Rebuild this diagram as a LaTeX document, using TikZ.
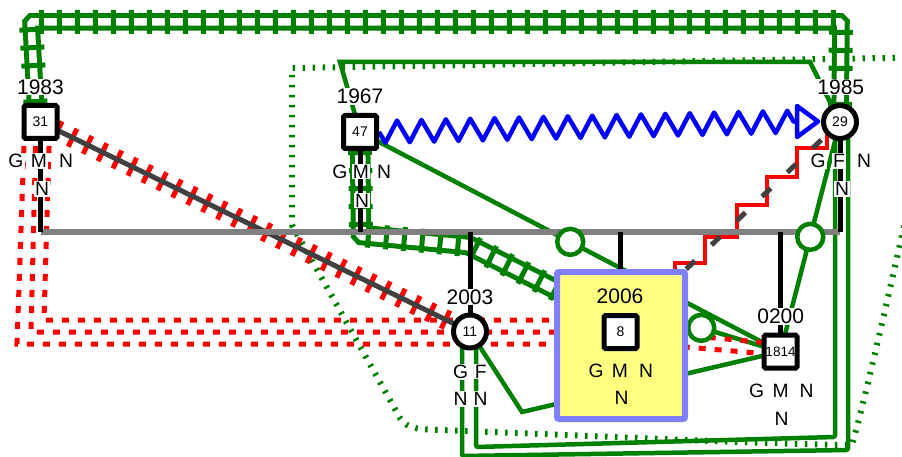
\documentclass[tikz,border=0pt]{standalone}
\usepackage{fontspec}
\setmainfont{Liberation Sans}
\usetikzlibrary{decorations.pathmorphing}
\definecolor{gr}{RGB}{0,128,0}
\definecolor{rd}{RGB}{255,0,0}
\definecolor{dg}{RGB}{64,64,64}
\definecolor{fg}{RGB}{128,128,128}
\definecolor{bl}{RGB}{0,0,255}
\definecolor{bbox}{RGB}{128,128,255}
\definecolor{ybox}{RGB}{255,255,128}
\pgfdeclarelayer{lA}
\pgfdeclarelayer{lB}
\pgfdeclarelayer{lC}
\pgfdeclarelayer{lD}
\pgfdeclarelayer{lE}
\pgfsetlayers{lA,lB,lC,lD,lE,main}
\begin{document}
\begin{tikzpicture}[x=1pt,y=-1pt,
  sq/.style={draw=black, line width=5pt, fill=white, minimum size=33pt, rounded corners=1.5pt, inner sep=0pt, font=\fontsize{14}{14}\selectfont},
  ci/.style={circle, draw=black, line width=5pt, fill=white, minimum size=33pt, inner sep=0pt, font=\fontsize{14}{14}\selectfont},
  yr/.style={fill=white, inner sep=1pt, font=\fontsize{21}{21}\selectfont},
  yrb/.style={inner sep=1pt, font=\fontsize{21}{21}\selectfont},
  lt/.style={fill=white, inner sep=1pt, font=\fontsize{19.3}{19.3}\selectfont},
  ltb/.style={inner sep=1pt, font=\fontsize{19.3}{19.3}\selectfont},
  gl/.style={draw=gr, line width=4.5pt},
  railsA/.style={draw=gr, line width=5pt, double=white, double distance=7.5pt},
  railsB/.style={draw=gr, line width=5pt, double=white, double distance=10.5pt},
  ties/.style={draw=gr, line width=24pt, dash pattern=on 5pt off 13pt},
  rdot/.style={draw=rd, line width=5pt, dash pattern=on 7pt off 9pt},
  gdot/.style={draw=gr, line width=6pt, dash pattern=on 2.5pt off 7.5pt},
  mk/.style={circle, draw=gr, line width=4.5pt, fill=white, minimum size=26pt, inner sep=0pt},
  fam/.style={draw=fg, line width=5pt},
  kid/.style={draw=black, line width=5pt},
  ]
\useasboundingbox (0,0) rectangle (902,457);

% ---------- family box and person nodes ----------
\node[draw=bbox, line width=6pt, fill=ybox, rounded corners=2pt, minimum width=128pt, minimum height=147pt, inner sep=0pt] (box) at (621,345.5) {};

\node[sq] (p31) at (40.5,122) {31};
\node[sq] (p47) at (360,132) {47};
\node[ci] (p29) at (840,122) {29};
\node[ci] (p11) at (470,331.5) {11};
\node[sq] (p8) at (620.5,332) {8};
\node[sq, font=\fontsize{13.5}{13.5}\selectfont] (p1814) at (780.5,351.7) {1814};

% labels
\node[yr] (y31) at (40.5,87) {1983};
\node[lt] (g31) at (16,161) {G};
\node[lt] (m31) at (39,161) {M};
\node[lt] (n31) at (66,161) {N};
\node[lt] (nn31) at (42,189) {N};

\node[yr] (y47) at (360,96.7) {1967};
\node[lt] (g47) at (340,171.7) {G};
\node[lt] (m47) at (361,171.7) {M};
\node[lt] (n47) at (384,171.7) {N};
\node[lt] (nn47) at (362,200.7) {N};

\node[yr] (y29) at (840.8,87) {1985};
\node[lt] (g29) at (818,161) {G};
\node[lt] (f29) at (839,161) {F};
\node[lt] (n29) at (864,161) {N};
\node[lt] (nn29) at (842,189) {N};

\node[yr] (y11) at (470,297) {2003};
\node[lt] (g11) at (460.7,371.7) {G};
\node[lt] (f11) at (480.7,371.7) {F};
\node[lt] (n11) at (460.7,399) {N};
\node[lt] (nn11) at (480.7,399) {N};

\node[yrb] (y8) at (620,296.7) {2006};
\node[ltb] (g8) at (596,371) {G};
\node[ltb] (m8) at (620,371) {M};
\node[ltb] (n8) at (646,371) {N};
\node[ltb] (nn8) at (621.7,398) {N};

\node[yr] (y1814) at (780.7,316.7) {0200};
\node[lt] (g1814) at (756.7,390.7) {G};
\node[lt] (m1814) at (780.7,390.7) {M};
\node[lt] (n1814) at (806.7,390.7) {N};
\node[lt] (nn1814) at (781.7,419.3) {N};

% ---------- helper coordinates ----------
\coordinate (fl1) at (40.5,232);
\coordinate (fl2) at (840,232);
\coordinate (ra0) at (36.5,122);
\coordinate (ra1) at (31,22);
\coordinate (ra2) at (841,22);
\coordinate (rb1) at (361,235);
\coordinate (rb2) at (468,245);
\coordinate (rb3) at (620.5,322);
\coordinate (s1) at (340,62);
\coordinate (s2) at (810,62);
\coordinate (i0) at (835,122);
\coordinate (i1) at (835,437);
\coordinate (i2) at (476,447);
\coordinate (i3) at (476,331.5);
\coordinate (o0) at (848,122);
\coordinate (o1) at (848,450);
\coordinate (o2) at (462,456);
\coordinate (o3) at (462,331.5);
\coordinate (w1) at (522,412);
\coordinate (c8b) at (622,304);
\coordinate (zz) at (797,121.5);
\coordinate (tA) at (797,106);
\coordinate (tB) at (818,121.5);
\coordinate (tC) at (797,137);

% ---------- lowest layer: dotted loop and railways ----------
\begin{pgfonlayer}{lA}
\draw[gdot] (915,57.5) -- (292,68) -- (292,225) -- (400,418)
  .. controls (408,430) and (420,429) .. (440,430)
  .. controls (600,436) and (760,444) .. (852,445)
  .. controls (866,395) and (890,290) .. (912,190);
\draw[railsA, rounded corners=1.5pt] (ra0) -- (ra1) -- (ra2) -- (p29.center);
\draw[ties] (ra0) -- (ra1) -- (ra2) -- (p29.center);
\draw[railsB, rounded corners=1.5pt] (p47.center) -- (rb1) -- (rb2) -- (rb3);
\draw[ties] (p47.center) -- (rb1) -- (rb2) -- (rb3);
\end{pgfonlayer}

% ---------- green relationship lines ----------
\begin{pgfonlayer}{lB}
\draw[gl] (p47.center) -- (s1) -- (s2) -- (p29.center);
\draw[gl, rounded corners=2pt] (i0) -- (i1) -- (i2) -- (i3);
\draw[gl, rounded corners=2pt] (o0) -- (o1) -- (o2) -- (o3);
\draw[gl] (p11.center) -- (w1) -- (p1814.center);
\draw[gl] (p47.center) -- (p1814.center);
\draw[gl] (p29.center) -- (p1814.center);
\draw[gl] (c8b) -- (p1814.center);
\end{pgfonlayer}

% ---------- red, gray and blue lines ----------
\begin{pgfonlayer}{lC}
\draw[rdot] (49.5,130) -- (44,320) -- (p8.center |- 0,320);
\draw[rdot] (36,130) -- (31,332) -- (650,332) -- (780,344);
\draw[rdot] (24.5,130) -- (17,344) -- (650,344) -- (780,355);
\draw[rd, line width=20pt, dash pattern=on 5pt off 11.6pt] (p31.center) -- (p11.center);
\draw[dg, line width=5pt] (p31.center) -- (p11.center);
\draw[rd, line width=4.5pt] (p8.center) -- (675,332) -- (675,263) -- (705,263) -- (705,237)
  -- (737,237) -- (737,205) -- (767,205) -- (767,177) -- (797,177) -- (797,148)
  -- (827,148) -- (827,122);
\draw[dg, line width=5pt, dash pattern=on 12pt off 23pt, dash phase=14.1pt] (p8.center) -- (p29.center);
\draw[bl, line width=4.5pt, line join=round, decorate,
  decoration={zigzag, segment length=24.4pt, amplitude=11pt, mirror}] (p47.east) -- (zz);
\draw[bl, line width=4.5pt, line join=round, fill=white] (tA) -- (tB) -- (tC) -- cycle;
\end{pgfonlayer}

% ---------- family line and descent lines ----------
\begin{pgfonlayer}{lD}
\draw[fam] (fl1) -- (fl2);
\draw[kid] (p31.center) -- (p31.center |- fl1);
\draw[kid] (p47.center) -- (p47.center |- fl1);
\draw[kid] (p29.center) -- (p29.center |- fl1);
\draw[kid] (p11.center |- fl1) -- (p11.center);
\draw[kid] (p8.center |- fl1) -- (p8.center);
\draw[kid] (p1814.center |- fl1) -- (p1814.center);
\end{pgfonlayer}

% ---------- relationship markers ----------
\begin{pgfonlayer}{lE}
\path (p47.center) -- (p1814.center) node[mk, pos=0.5] (mk1) {};
\path (p29.center) -- (p1814.center) node[mk, pos=0.5] (mk2) {};
\path (c8b) -- (p1814.center) node[mk, pos=0.5] (mk3) {};
\end{pgfonlayer}
\end{tikzpicture}
\end{document}
